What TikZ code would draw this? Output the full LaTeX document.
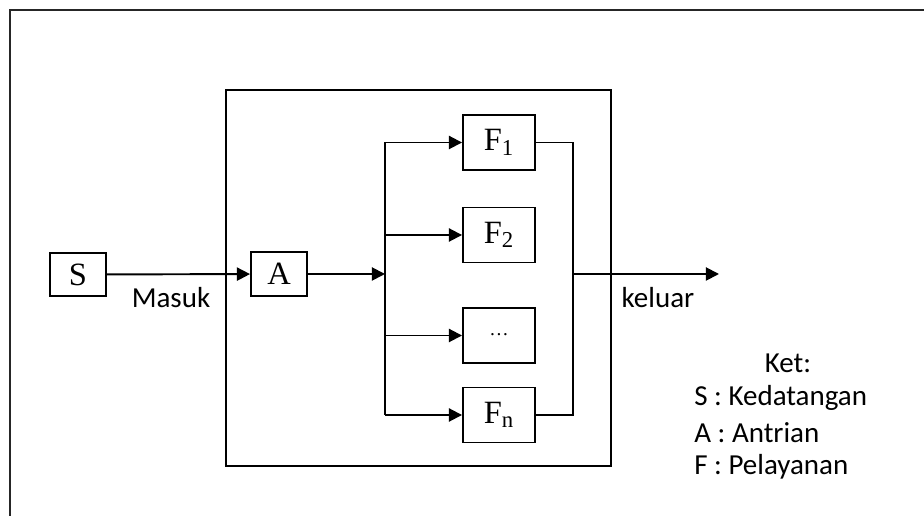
\documentclass[tikz,border=0pt]{standalone}
\usepackage{fontspec}
\setmainfont{Carlito}
\newfontfamily\boxfont{Liberation Serif}
\usetikzlibrary{arrows.meta, positioning, calc}

\begin{document}
\begin{tikzpicture}[
    x=0.02cm, y=-0.02cm,
    >={Triangle[length=7.5pt,width=7.5pt]},
    smallbox/.style={rectangle, draw=black, line width=1.1pt, minimum width=1.12cm, minimum height=0.87cm, inner sep=0pt, font=\boxfont\fontsize{18.5}{20}\selectfont},
    servbox/.style={smallbox, minimum width=1.44cm, minimum height=1.1cm},
    lbl/.style={font=\fontsize{16.5}{19}\selectfont, inner sep=0pt},
    conn/.style={->, line width=1.1pt},
    wire/.style={line width=1.1pt}
]

\useasboundingbox (0,0) rectangle (924,516);
\clip (0,0) rectangle (924,516);

% ---------- Frames ----------
\draw[line width=1.3pt, black!85] (10,10) rectangle (960,560);
\draw[line width=1.1pt] (226,90) rectangle (611,466);

% ---------- Boxes ----------
\node[smallbox] (S) at (78,274.5) {S};
\node[smallbox] (A) at (279,274) {A};

\def\xf{499}
\node[servbox] (F1) at (\xf,142.5) {F\textsubscript{1}};
\node[servbox] (F2) at (\xf,235) {F\textsubscript{2}};
\node[servbox] (Fd) at (\xf,335.5) {\raisebox{0.2ex}{\fontsize{11}{11}\selectfont\ldots}};
\node[servbox] (Fn) at (\xf,415) {F\textsubscript{n}};

% bus points
\coordinate (split) at (385,274);
\coordinate (merge) at (573,274);
\coordinate (out) at (719,274);

% ---------- Connections ----------
\draw[conn] (S) -- (A);
\draw[conn] (A) -- (split);
\draw[wire] (split |- F1.west) -- (split |- Fn.west);
\foreach \f in {F1,F2,Fd,Fn}
    \draw[conn] (split |- \f.west) -- (\f.west);

\draw[wire] (F1.east) -| (merge) |- (Fn.east);
\draw[conn] (merge) -- (out);

% ---------- Labels ----------
\node[lbl] (masuk) at (171,298) {Masuk};
\node[lbl] (keluar) at (658,298) {keluar};

\node[lbl] (ket) at (788,363) {Ket:};
\node[lbl, anchor=west] (kS) at (694,398) {S : Kedatangan};
\node[lbl, anchor=west] (kA) at (694,433) {A : Antrian};
\node[lbl, anchor=west] (kF) at (694,467) {F : Pelayanan};

\end{tikzpicture}
\end{document}
